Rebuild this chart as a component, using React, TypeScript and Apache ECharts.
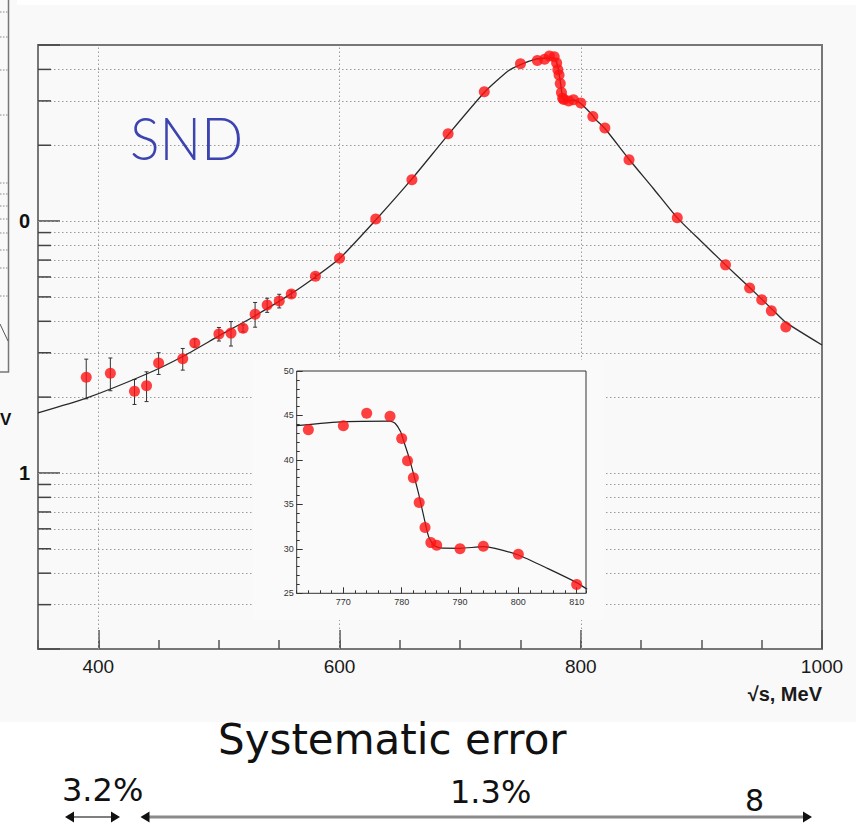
import React, { useEffect, useRef } from 'react';
import * as echarts from 'echarts';

// ---- data ----
const lowX = [390, 410, 430, 440, 450, 470, 480, 500, 510, 520, 530, 540, 550, 560, 580, 600, 630, 660, 690, 720, 750];
const lowY = [2.40, 2.49, 2.11, 2.22, 2.73, 2.84, 3.28, 3.56, 3.59, 3.75, 4.27, 4.64, 4.82, 5.13, 6.04, 7.12, 10.2, 14.6, 22.2, 32.6, 42.1];
const lowErr = [0.43, 0.37, 0.24, 0.30, 0.27, 0.28, 0.12, 0.22, 0.40, 0.12, 0.48, 0.30, 0.30, 0.15, 0.12, 0, 0, 0, 0, 0, 0];
const peakX = [764, 770, 774, 778, 780, 781, 782, 783, 784, 785, 786, 790, 794, 800, 810];
const peakY = [43.4, 43.85, 45.25, 44.9, 42.4, 39.9, 38.0, 35.2, 32.4, 30.7, 30.4, 30.0, 30.3, 29.4, 26.0];
const highX = [820, 840, 880, 920, 940, 950, 958, 970];
const highY = [23.4, 17.5, 10.3, 6.70, 5.42, 4.87, 4.40, 3.80];
const fitX = [350, 390, 440, 470, 500, 530, 560, 580, 600, 630, 660, 690, 720, 740, 750, 762, 770, 778, 778.9, 779.8, 780.3, 781.2, 782, 782.9, 783.8, 784.6, 785.5, 786.6, 790, 794, 796, 800, 805, 810, 811.8, 820, 840, 860, 880, 900, 920, 940, 960, 970, 1000];
const fitY = [1.73, 1.98, 2.47, 2.90, 3.50, 4.21, 5.15, 6.0, 7.1, 10.1, 14.7, 22.0, 32.4, 39.5, 41.8, 43.85, 44.3, 44.37, 44.1, 43.2, 42.2, 40.4, 38.5, 36.2, 33.6, 31.4, 30.4, 30.1, 30.06, 30.24, 30.06, 29.3, 27.8, 26.2, 25.45, 23.3, 17.6, 13.5, 10.3, 8.3, 6.7, 5.45, 4.4, 3.96, 3.22];

// axes / ticks
const X_MIN = 350, X_MAX = 1000;
const xMajor = [400, 600, 800, 1000];
const xGrid = [400, 600, 800];
const Y_MIN = 0.2, Y_MAX = 50;
const yLabelValues = [1, 10];
const yLabelTexts = ['1', '0'];
const yMinor = [0.3, 0.4, 0.5, 0.6, 0.7, 0.8, 0.9, 2, 3, 4, 5, 6, 7, 8, 9, 20, 30, 40];
const yGrid = [0.3, 0.4, 0.5, 0.6, 0.7, 0.8, 0.9, 1, 2, 3, 4, 5, 6, 7, 8, 9, 10, 20, 30, 40];
const IN_X_MIN = 762, IN_X_MAX = 811.6;
const inXMajor = [770, 780, 790, 800, 810];
const IN_Y_MIN = 25, IN_Y_MAX = 50;

export default function App() {
  const ref = useRef<HTMLDivElement>(null);
  useEffect(() => {
    const chart = echarts.init(ref.current!, null, { renderer: 'svg' });
    const allX = [...lowX, ...peakX, ...highX];
    const allY = [...lowY, ...peakY, ...highY];
    const mainPts = allX.map((x, i) => [x, allY[i]]);
    const errPts = lowX.map((x, i) => [x, lowY[i], lowErr[i]]).filter(d => d[2] > 0);
    const fitPts = fitX.map((x, i) => [x, fitY[i]]);
    const inFit = fitPts.filter(d => d[0] >= IN_X_MIN && d[0] <= 812);
    const inPts = peakX.map((x, i) => [x, peakY[i]]);
    const dotted = { color: '#9a9a9a', width: 1, type: [1.5, 2.5] as any };
    const red = '#ff1212';

    const option: any = {
      animation: false,
      backgroundColor: '#ffffff',
      grid: [
        { left: 38, top: 45, width: 784, height: 604, show: true, borderColor: '#777', borderWidth: 2, containLabel: false, outerBoundsMode: 'none', z: 0 },
        { left: 296.7, top: 371, width: 289.3, height: 222.3, show: true, borderColor: '#333', borderWidth: 1, containLabel: false, outerBoundsMode: 'none', z: 12 },
      ],
      xAxis: [
        {
          gridIndex: 0, type: 'value', min: X_MIN, max: X_MAX, position: 'bottom',
          axisLine: { show: false }, splitLine: { show: false },
          axisTick: { show: true, inside: true, length: 19, customValues: xMajor, lineStyle: { color: '#555', width: 1.5 } },
          axisLabel: { customValues: xMajor, fontSize: 19, color: '#1a1a1a', fontFamily: 'Liberation Sans', margin: 8, formatter: (v: number) => String(v) },
        },
        {
          gridIndex: 0, type: 'value', min: X_MIN, max: X_MAX, interval: 50, position: 'bottom', offset: 0,
          axisLine: { show: false }, splitLine: { show: false }, axisLabel: { show: false },
          axisTick: { show: true, inside: true, length: 9, lineStyle: { color: '#555', width: 1.5 } },
        },
        {
          gridIndex: 1, type: 'value', min: IN_X_MIN, max: IN_X_MAX, position: 'bottom', z: 12,
          axisLine: { show: false }, splitLine: { show: false },
          axisTick: { show: true, inside: true, length: 6, customValues: inXMajor, lineStyle: { color: '#333', width: 1 } },
          axisLabel: { customValues: inXMajor, fontSize: 9, color: '#333', fontFamily: 'Liberation Sans', margin: 4, formatter: (v: number) => String(v) },
        },
        {
          gridIndex: 1, type: 'value', min: IN_X_MIN, max: IN_X_MAX, interval: 2, position: 'bottom', offset: 0, z: 12,
          axisLine: { show: false }, splitLine: { show: false }, axisLabel: { show: false },
          axisTick: { show: true, inside: true, length: 3, lineStyle: { color: '#333', width: 1 } },
        },
      ],
      yAxis: [
        {
          gridIndex: 0, type: 'log', logBase: 10, min: Y_MIN, max: Y_MAX, position: 'left',
          axisLine: { show: false }, splitLine: { show: false }, minorTick: { show: false },
          axisTick: { show: true, inside: true, length: 22, lineStyle: { color: '#444', width: 1.5 } },
          axisLabel: {
            fontSize: 20, fontWeight: 'bold', color: '#111', fontFamily: 'Liberation Sans', margin: 8,
            formatter: (v: number) => {
              const r = Math.round(v * 1000) / 1000;
              const i = yLabelValues.indexOf(r);
              return i >= 0 ? yLabelTexts[i] : '';
            },
          },
        },
        {
          gridIndex: 1, type: 'value', min: IN_Y_MIN, max: IN_Y_MAX, interval: 5, position: 'left', z: 12,
          axisLine: { show: false }, splitLine: { show: false },
          axisTick: { show: true, inside: true, length: 6, lineStyle: { color: '#333', width: 1 } },
          axisLabel: { fontSize: 9, color: '#333', fontFamily: 'Liberation Sans', margin: 3 },
        },
        {
          gridIndex: 1, type: 'value', min: IN_Y_MIN, max: IN_Y_MAX, interval: 1, position: 'left', offset: 0, z: 12,
          axisLine: { show: false }, splitLine: { show: false }, axisLabel: { show: false },
          axisTick: { show: true, inside: true, length: 3, lineStyle: { color: '#333', width: 1 } },
        },
      ],
      series: [
        {
          type: 'line', xAxisIndex: 0, yAxisIndex: 0, data: [], z: 1, silent: true,
          markLine: {
            z: 1, silent: true, symbol: 'none', label: { show: false },
            lineStyle: dotted,
            data: [...yGrid.map(v => ({ yAxis: v })), ...xGrid.map(v => ({ xAxis: v }))],
          },
        },
        {
          type: 'custom', xAxisIndex: 0, yAxisIndex: 0, z: 4, silent: true,
          data: yMinor.map(v => [X_MIN, v]),
          encode: { x: 0, y: 1 },
          renderItem: (_p: any, api: any) => {
            const p = api.coord([api.value(0), api.value(1)]);
            return { type: 'line', shape: { x1: p[0], y1: p[1], x2: p[0] + 13, y2: p[1] }, style: { stroke: '#444', lineWidth: 1.5 } };
          },
        },
        {
          type: 'line', xAxisIndex: 0, yAxisIndex: 0, data: fitPts, z: 4, showSymbol: false, smooth: 0.2,
          lineStyle: { color: '#2a2a2a', width: 1.3 }, silent: true,
        },
        {
          type: 'custom', xAxisIndex: 0, yAxisIndex: 0, z: 4, silent: true,
          data: errPts, encode: { x: 0, y: 1 },
          renderItem: (_p: any, api: any) => {
            const x = api.value(0), v = api.value(1), e = api.value(2);
            const t = api.coord([x, v + e]);
            const b = api.coord([x, v - e]);
            const st = { stroke: '#333', lineWidth: 1 };
            return {
              type: 'group', children: [
                { type: 'line', shape: { x1: t[0], y1: t[1], x2: b[0], y2: b[1] }, style: st },
                { type: 'line', shape: { x1: t[0] - 2, y1: t[1], x2: t[0] + 2, y2: t[1] }, style: st },
                { type: 'line', shape: { x1: b[0] - 2, y1: b[1], x2: b[0] + 2, y2: b[1] }, style: st },
              ],
            };
          },
        },
        {
          type: 'scatter', xAxisIndex: 0, yAxisIndex: 0, data: mainPts, z: 5, symbolSize: 11,
          itemStyle: { color: red }, silent: true,
        },
        {
          type: 'line', xAxisIndex: 2, yAxisIndex: 1, data: inFit, z: 12, showSymbol: false, smooth: 0.2,
          lineStyle: { color: '#222', width: 1.2 }, silent: true,
        },
        {
          type: 'scatter', xAxisIndex: 2, yAxisIndex: 1, data: inPts, z: 13, symbolSize: 11,
          itemStyle: { color: red }, silent: true,
        },
      ],
      graphic: [
        { type: 'rect', z: -10, silent: true, shape: { x: 0, y: 0, width: 856, height: 722 }, style: { fill: '#f9f9f9' } },
        { type: 'rect', z: -9, silent: true, shape: { x: 17, y: 0, width: 839, height: 5 }, style: { fill: '#ffffff' } },
        { type: 'rect', z: 3, silent: true, shape: { x: 253, y: 360, width: 351, height: 260 }, style: { fill: '#fafafa' } },
        // left strip (neighbouring picture)
        { type: 'rect', z: 50, silent: true, shape: { x: 0, y: 0, width: 17, height: 445 }, style: { fill: '#f9f9f9' } },
        { type: 'polyline', z: 51, silent: true, shape: { points: [[8.5, 0], [8.5, 372], [0, 372]] }, style: { stroke: '#777', lineWidth: 1.5, fill: 'none' } },
        ...[12, 37, 70, 115, 183, 194, 206, 219, 233, 250, 268, 296].map(y => ({
          type: 'line', z: 51, silent: true, shape: { x1: 0, y1: y, x2: 8, y2: y }, style: { stroke: '#888', lineWidth: 1, lineDash: [1.5, 1.5] },
        })),
        { type: 'line', z: 51, silent: true, shape: { x1: 0, y1: 324, x2: 8, y2: 341 }, style: { stroke: '#555', lineWidth: 1 } },
        { type: 'text', z: 51, silent: true, x: 0, y: 419, style: { text: 'V', fontSize: 17, fontWeight: 'bold', fontFamily: 'Liberation Sans', fill: '#111', align: 'left', verticalAlign: 'middle' } },
        // labels
        { type: 'text', z: 20, silent: true, x: 130, y: 137, scaleX: 0.92, style: { text: 'SND', fontSize: 60, fontFamily: 'Lato', fontWeight: 300, fill: '#3b44b0', align: 'left', verticalAlign: 'middle' } },
        { type: 'text', z: 20, silent: true, x: 822, y: 694, style: { text: '√s, MeV', fontSize: 20, fontWeight: 'bold', fontFamily: 'Liberation Sans', fill: '#1a1a1a', align: 'right', verticalAlign: 'middle' } },
        { type: 'text', z: 20, silent: true, x: 218, y: 739, style: { text: 'Systematic error', fontSize: 42, fontFamily: 'DejaVu Sans', fill: '#111', align: 'left', verticalAlign: 'middle' } },
        { type: 'text', z: 20, silent: true, x: 62, y: 790, style: { text: '3.2%', fontSize: 32, fontFamily: 'DejaVu Sans', fill: '#111', align: 'left', verticalAlign: 'middle' } },
        { type: 'text', z: 20, silent: true, x: 450, y: 792, style: { text: '1.3%', fontSize: 32, fontFamily: 'DejaVu Sans', fill: '#111', align: 'left', verticalAlign: 'middle' } },
        { type: 'text', z: 20, silent: true, x: 745, y: 800, style: { text: '8', fontSize: 30, fontFamily: 'DejaVu Sans', fill: '#111', align: 'left', verticalAlign: 'middle' } },
        // arrows
        { type: 'line', z: 20, silent: true, shape: { x1: 70, y1: 817, x2: 115, y2: 817 }, style: { stroke: '#555', lineWidth: 1.5 } },
        { type: 'polygon', z: 21, silent: true, shape: { points: [[65, 817], [74, 811.5], [74, 822.5]] }, style: { fill: '#111' } },
        { type: 'polygon', z: 21, silent: true, shape: { points: [[120, 817], [111, 811.5], [111, 822.5]] }, style: { fill: '#111' } },
        { type: 'line', z: 20, silent: true, shape: { x1: 146, y1: 817, x2: 806, y2: 817 }, style: { stroke: '#8a8a8a', lineWidth: 3 } },
        { type: 'polygon', z: 21, silent: true, shape: { points: [[140.5, 817], [149.5, 811.5], [149.5, 822.5]] }, style: { fill: '#111' } },
        { type: 'polygon', z: 21, silent: true, shape: { points: [[812, 817], [803, 811.5], [803, 822.5]] }, style: { fill: '#111' } },
      ],
    };
    chart.setOption(option);
    return () => chart.dispose();
  }, []);
  return <div ref={ref} style={{ position: 'fixed', left: 0, top: 0, width: 856, height: 826 }} />;
}
